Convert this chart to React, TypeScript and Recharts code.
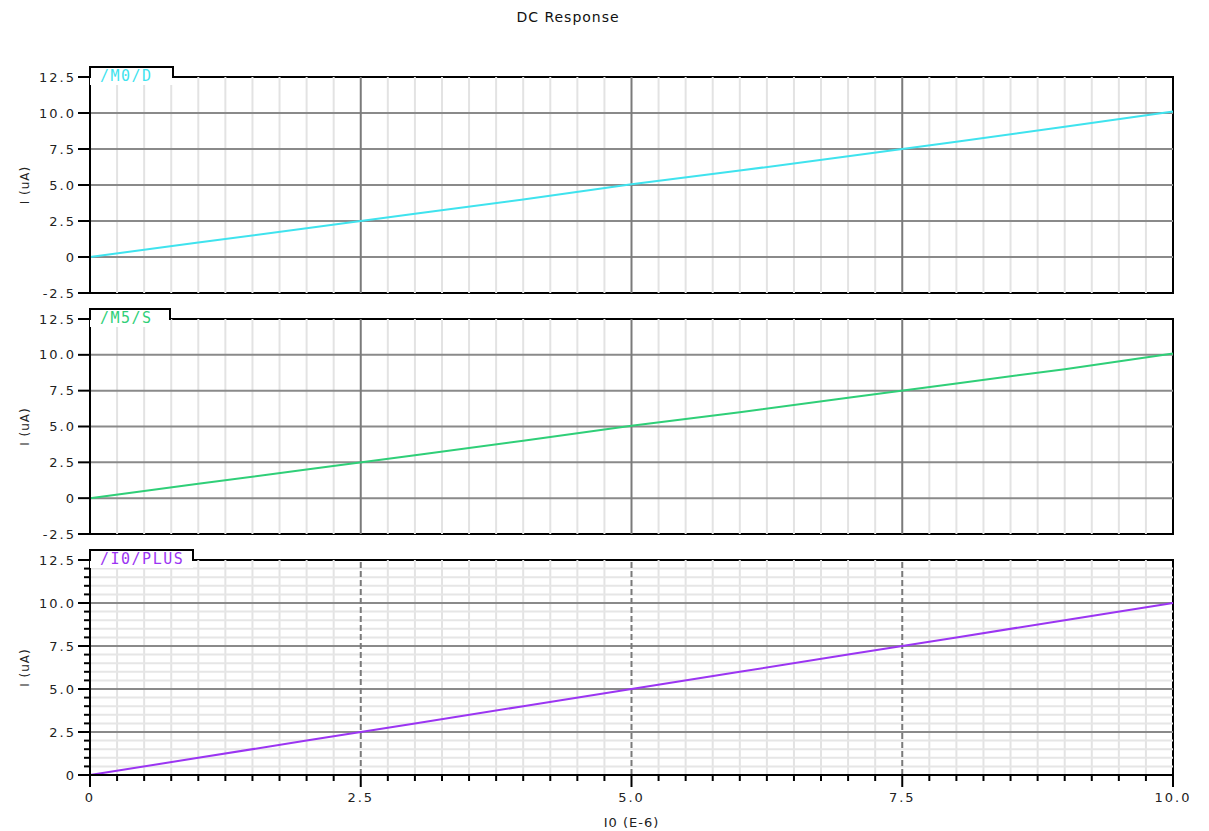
import React from "react";
import { LineChart, Line, XAxis, YAxis, ReferenceLine, ReferenceArea } from "recharts";

// sweep of I0 (E-6)
const SWEEP = [0, 1, 2, 3, 4, 5, 6, 7, 8, 9, 10];
// currents in uA
const M0_D = [0, 1.0, 2.0, 3.0, 4.0, 5.05, 6.0, 7.0, 8.0, 9.05, 10.1];
const M5_S = [0, 1.0, 2.0, 3.0, 4.0, 5.05, 6.0, 7.0, 8.0, 9.0, 10.1];
const I0_PLUS = [0, 1.0, 2.0, 3.0, 4.0, 5.0, 6.0, 7.0, 8.0, 9.0, 10.0];

const X_TICKS = [0, 2.5, 5, 7.5, 10];
const Y_TICKS = [-2.5, 0, 2.5, 5, 7.5, 10, 12.5];
const Y_TICKS_BOTTOM = [0, 2.5, 5, 7.5, 10, 12.5];

const W = 1209;
const FONT = "'DejaVu Sans', sans-serif";
const TAB_FONT = "'DejaVu Sans Mono', monospace";
const TICK = 12;
const GAP = 2;

const range = (from: number, to: number, step: number) => {
  const out: number[] = [];
  for (let v = from; v <= to + 1e-9; v += step) out.push(Math.round(v * 100) / 100);
  return out;
};
const MINOR_X = range(0, 10, 0.25).filter((v) => !X_TICKS.includes(v));
const MINOR_Y = range(0, 12.5, 0.5).filter((v) => !Y_TICKS_BOTTOM.includes(v));
const ALL_X = [...X_TICKS, ...MINOR_X].sort((a, b) => a - b);
const ALL_Y_BOTTOM = [...Y_TICKS_BOTTOM, ...MINOR_Y].sort((a, b) => a - b);

const fmt = (v: number) => (v === 0 ? "0" : v.toFixed(1));
const textStyle = { fontFamily: FONT, fontSize: 13, fill: "#222", letterSpacing: 2 };

// left-axis tick: long mark + label on majors, short mark on minors
const YTick = (majors: number[]) => (props: any) => {
  const { x, y, payload } = props;
  const v = payload.value as number;
  const edge = x + TICK + GAP;
  const major = majors.includes(v);
  return (
    <g>
      <line x1={edge - (major ? TICK : 6)} x2={edge} y1={y} y2={y} stroke="#000" strokeWidth={2} />
      {major ? (
        <text x={x} y={y} textAnchor="end" dominantBaseline="central" style={textStyle}>
          {fmt(v)}
        </text>
      ) : null}
    </g>
  );
};

const XTick = (props: any) => {
  const { x, y, payload } = props;
  const v = payload.value as number;
  const edge = y - TICK - GAP;
  const major = X_TICKS.includes(v);
  return (
    <g>
      <line x1={x} x2={x} y1={edge} y2={edge + (major ? TICK : 6)} stroke="#000" strokeWidth={2} />
      {major ? (
        <text x={x} y={y + 8} textAnchor="middle" dominantBaseline="central" style={textStyle}>
          {fmt(v)}
        </text>
      ) : null}
    </g>
  );
};

interface PanelProps {
  top: number;
  height: number;
  margin: { top: number; right: number; bottom: number; left: number };
  color: string;
  name: string;
  tabWidth: number;
  values: number[];
  bottom?: boolean;
}

function Panel({ top, height, margin, color, name, tabWidth, values, bottom }: PanelProps) {
  const data = SWEEP.map((x, i) => ({ x, y: values[i] }));
  const yMin = bottom ? 0 : -2.5;
  const yMajors = bottom ? Y_TICKS_BOTTOM : Y_TICKS;
  const plotTop = top + margin.top;
  return (
    <>
      <div style={{ position: "absolute", left: 0, top }}>
        <LineChart width={W} height={height} data={data} margin={margin}>
          <XAxis
            dataKey="x"
            type="number"
            domain={[0, 10]}
            ticks={ALL_X}
            interval={0}
            hide={!bottom}
            height={56}
            tickSize={TICK}
            tickMargin={GAP}
            tick={XTick}
            tickLine={false}
            axisLine={{ stroke: "#000", strokeWidth: 2 }}
            label={{ value: "I0 (E-6)", position: "insideBottom", offset: 4, style: { fontFamily: FONT, fontSize: 13, fill: "#222", letterSpacing: 1 } }}
          />
          <YAxis
            type="number"
            domain={[yMin, 12.5]}
            ticks={bottom ? ALL_Y_BOTTOM : Y_TICKS}
            interval={0}
            width={90}
            tickSize={TICK}
            tickMargin={GAP}
            tick={YTick(yMajors)}
            tickLine={false}
            axisLine={{ stroke: "#000", strokeWidth: 2 }}
            label={{
              content: ({ viewBox }: any) => (
                <text
                  x={viewBox.x + 25}
                  y={viewBox.y + viewBox.height / 2}
                  transform={`rotate(-90, ${viewBox.x + 25}, ${viewBox.y + viewBox.height / 2})`}
                  textAnchor="middle"
                  dominantBaseline="middle"
                  style={{ fontFamily: FONT, fontSize: 12, fill: "#222", letterSpacing: 1 }}
                >
                  I (uA)
                </text>
              ),
            }}
          />
          {MINOR_X.map((v) => (
            <ReferenceLine key={`mx${v}`} x={v} stroke="#e3e3e3" strokeWidth={2} />
          ))}
          {bottom
            ? MINOR_Y.map((v) => <ReferenceLine key={`my${v}`} y={v} stroke="#e6e6e6" strokeWidth={2} />)
            : null}
          {yMajors.slice(1, -1).map((v) => (
            <ReferenceLine key={`hy${v}`} y={v} stroke="#8a8a8a" strokeWidth={2} />
          ))}
          {X_TICKS.slice(1, -1).map((v) => (
            <ReferenceLine
              key={`vx${v}`}
              x={v}
              stroke="#7a7a7a"
              strokeWidth={2}
              strokeDasharray={bottom ? "6 3" : undefined}
            />
          ))}
          <Line type="linear" dataKey="y" stroke={color} strokeWidth={2} dot={false} isAnimationActive={false} />
          <ReferenceArea x1={0} x2={10} y1={yMin} y2={12.5} fill="none" stroke="#000" strokeWidth={2} />
        </LineChart>
      </div>
      <div
        style={{
          position: "absolute",
          left: margin.left + 90,
          top: plotTop - 11,
          width: tabWidth,
          height: 19,
          background: "#fff",
        }}
      />
      <div
        style={{
          position: "absolute",
          left: margin.left + 89,
          top: plotTop - 11,
          width: tabWidth - 2,
          height: 10,
          borderTop: "2px solid #000",
          borderLeft: "2px solid #000",
          borderRight: "2px solid #000",
        }}
      />
      <div
        style={{
          position: "absolute",
          left: margin.left + 100,
          top: plotTop - 10,
          fontFamily: TAB_FONT,
          fontSize: 15,
          letterSpacing: 1.5,
          color,
          lineHeight: "18px",
        }}
      >
        {name}
      </div>
    </>
  );
}

export default function App() {
  return (
    <div style={{ position: "absolute", left: 0, top: 0, width: W, height: 831, background: "#fff" }}>
      <div
        style={{
          position: "absolute",
          left: 568,
          top: 9,
          transform: "translateX(-50%)",
          fontFamily: FONT,
          fontSize: 14,
          letterSpacing: 1,
          color: "#111",
          whiteSpace: "nowrap",
        }}
      >
        DC Response
      </div>
      <Panel
        top={0}
        height={305}
        margin={{ top: 77, right: 36, bottom: 12, left: 0 }}
        color="#3fe3ee"
        name="/M0/D"
        tabWidth={83}
        values={M0_D}
      />
      <Panel
        top={305}
        height={245}
        margin={{ top: 14, right: 36, bottom: 16, left: 0 }}
        color="#2fcf78"
        name="/M5/S"
        tabWidth={80}
        values={M5_S}
      />
      <Panel
        top={550}
        height={281}
        margin={{ top: 10, right: 36, bottom: 0, left: 0 }}
        color="#9b35f2"
        name="/I0/PLUS"
        tabWidth={103}
        values={I0_PLUS}
        bottom
      />
    </div>
  );
}
